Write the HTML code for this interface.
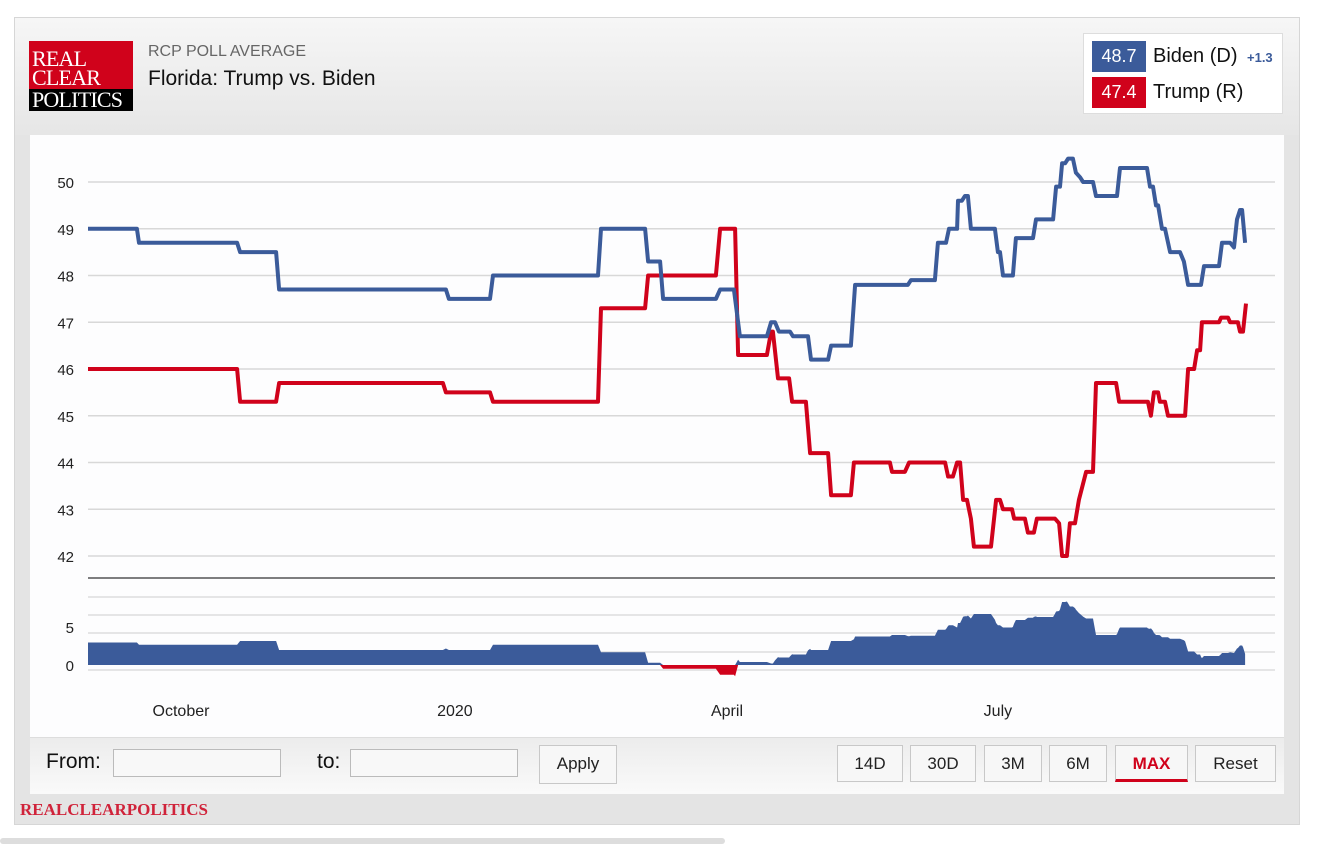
<!DOCTYPE html>
<html><head><meta charset="utf-8">
<style>
body{margin:0;width:1325px;height:844px;background:#fff;font-family:"Liberation Sans",sans-serif;overflow:hidden;position:relative}
.frame{position:absolute;left:14px;top:17px;width:1286px;height:808px;background:#e4e4e4;border:1px solid #d6d6d6;box-sizing:border-box}
.head{position:absolute;left:15px;top:18px;width:1284px;height:117px;background:linear-gradient(#f6f6f6,#e6e6e6)}
.logo{position:absolute;left:29px;top:41px;width:104px;height:70px;background:#000}
.logo .r{position:absolute;left:0;top:0;width:104px;height:48px;background:#d0021b}
.logo span{position:absolute;left:3px;color:#fff;font-family:"Liberation Serif",serif;font-size:22px;line-height:18px;letter-spacing:-0.8px}
.plot{position:absolute;left:30px;top:135px;width:1254px;height:602px;background:#fdfdfe}
.ctrl{position:absolute;left:30px;top:737px;width:1254px;height:56px;background:linear-gradient(#ececec,#fafafa);border-top:1px solid #ddd}
.btn{position:absolute;top:745px;height:37px;background:#f7f7f7;border:1px solid #c8c8c8;box-sizing:border-box;font-size:17px;color:#222;text-align:center;line-height:36px}
.inp{position:absolute;top:749px;height:28px;background:#f8f8f8;border:1px solid #bbb;box-sizing:border-box}
</style></head><body>
<div class="frame"></div>
<div class="head"></div>
<div class="logo"><div class="r"></div>
<span style="top:9px">REAL</span><span style="top:28px">CLEAR</span><span style="top:50px">POLITICS</span></div>
<div style="position:absolute;left:148px;top:43px;font-size:16px;color:#666">RCP POLL AVERAGE</div>
<div style="position:absolute;left:148px;top:67px;font-size:21px;color:#111">Florida: Trump vs. Biden</div>
<div style="position:absolute;left:1083px;top:33px;width:200px;height:81px;background:#fff;border:1px solid #ddd;box-sizing:border-box">
<div style="position:absolute;left:8px;top:7px;width:54px;height:31px;background:#3b5b9a;color:#fff;font-size:18px;text-align:center;line-height:31px">48.7</div>
<div style="position:absolute;left:69px;top:11px;font-size:20px;color:#111">Biden (D)</div>
<div style="position:absolute;left:163px;top:16px;font-size:13px;color:#3b5b9a;font-weight:bold">+1.3</div>
<div style="position:absolute;left:8px;top:43px;width:54px;height:31px;background:#d0021b;color:#fff;font-size:18px;text-align:center;line-height:31px">47.4</div>
<div style="position:absolute;left:69px;top:47px;font-size:20px;color:#111">Trump (R)</div>
</div>
<div class="plot"></div>
<svg id="chart" width="1325" height="844" style="position:absolute;left:0;top:0"></svg>
<div class="ctrl"></div>
<div style="position:absolute;left:46px;top:750px;font-size:21px;color:#111">From:</div>
<div class="inp" style="left:113px;width:168px"></div>
<div style="position:absolute;left:317px;top:750px;font-size:21px;color:#111">to:</div>
<div class="inp" style="left:350px;width:168px"></div>
<div class="btn" style="left:539px;width:78px;top:745px;height:39px">Apply</div>
<div class="btn" style="left:837px;width:66px">14D</div>
<div class="btn" style="left:910px;width:66px">30D</div>
<div class="btn" style="left:984px;width:58px">3M</div>
<div class="btn" style="left:1049px;width:58px">6M</div>
<div class="btn" style="left:1115px;width:73px;color:#d0021b;font-weight:bold;border-bottom:3px solid #d0021b">MAX</div>
<div class="btn" style="left:1195px;width:81px">Reset</div>
<div style="position:absolute;left:20px;top:800px;font-family:'Liberation Serif',serif;font-weight:bold;font-size:17px;color:#d0233a">REALCLEARPOLITICS</div>
<div style="position:absolute;left:0;top:838px;width:725px;height:6px;background:#ddd;border-radius:3px"></div>
<script>
const bidenDays=[0,16.3,17,49.7,50.7,62.7,63.7,119.3,120.3,134,135,170,171,185.7,186.7,190.7,191.7,209.3,210.7,215.3,217.3,226.3,227.7,229,230.3,234,235,240,241,246.7,247.7,254.3,255.7,273.3,274.3,282.3,283.3,286,287,289.7,290,291.3,292.3,293.3,294.3,302.3,303.3,304,305,308.3,309.3,315,316,321.7,322.7,324,324.7,325.7,326.7,328.3,329.3,330.7,331.7,335,336,343,344,353,354,355,356,356.7,358,359,360.7,364,365.3,366.7,371,372,377,378,380.7,382,383,384,384.7,385.7];
const bidenVals=[49,49,48.7,48.7,48.5,48.5,47.7,47.7,47.5,47.5,48,48,49,49,48.3,48.3,47.5,47.5,47.7,47.7,46.7,46.7,47,47,46.8,46.8,46.7,46.7,46.2,46.2,46.5,46.5,47.8,47.8,47.9,47.9,48.7,48.7,49,49,49.6,49.6,49.7,49.7,49,49,48.5,48.5,48,48,48.8,48.8,49.2,49.2,49.9,49.9,50.4,50.4,50.5,50.5,50.2,50.1,50,50,49.7,49.7,50.3,50.3,49.9,49.9,49.5,49.5,49,49,48.5,48.5,48.3,47.8,47.8,48.2,48.2,48.7,48.7,48.6,49.2,49.4,49.4,48.7];
const trumpDays=[0,49.7,50.7,62.7,63.7,118.3,119.3,134,135,170,171,185.7,186.7,209.3,210.7,215.7,216.7,226.3,227.7,228.3,230,233.7,234.7,239.3,240.7,246.7,247.7,254.3,255.3,267.3,268,272.3,273.7,285.7,286.7,288.3,289.7,290.7,291.7,293,294.3,295.3,301,302.7,304,305,308,308.7,312.3,313.3,315.3,316.3,322.3,323.7,324.7,326.3,327.3,329,330.3,332.7,335,336,342.7,343.7,353.3,354.3,355.3,356.7,357.3,359,360,365.7,366.7,368.7,369.7,370.7,371.3,377,377.7,380,380.7,383.3,384,385,386];
const trumpVals=[46,46,45.3,45.3,45.7,45.7,45.5,45.5,45.3,45.3,47.3,47.3,48,48,49,49,46.3,46.3,46.8,46.8,45.8,45.8,45.3,45.3,44.2,44.2,43.3,43.3,44,44,43.8,43.8,44,44,43.7,43.7,44,44,43.2,43.2,42.8,42.2,42.2,43.2,43.2,43,43,42.8,42.8,42.5,42.5,42.8,42.8,42.7,42,42,42.7,42.7,43.2,43.8,43.8,45.7,45.7,45.3,45.3,45,45.5,45.5,45.3,45.3,45,45,46,46,46.4,46.4,47,47,47.1,47.1,47,47,46.8,46.8,47.4];
const yTicks=[42,43,44,45,46,47,48,49,50];
const spreadTicks=[0,5];
const monthLabels=["October","2020","April","July"];
const monthDays=[31,122.3,213,303.3];

const NS="http://www.w3.org/2000/svg";
const svg=document.getElementById('chart');
const x=d=>88+d*3;
const y=v=>182+(50-v)*46.75;
const ys=v=>665-v*7.5;
function el(t,a,p){const e=document.createElementNS(NS,t);for(const k in a)e.setAttribute(k,a[k]);(p||svg).appendChild(e);return e;}
yTicks.forEach(v=>{
  const l=el('line',{x1:88,x2:1275,y1:y(v),y2:y(v),stroke:'#d8d8d8','stroke-width':1.5});
  
  
  const t=el('text',{x:74,y:y(v)+6,'text-anchor':'end','font-size':15,fill:'#222','font-family':'Liberation Sans, sans-serif'});
  t.textContent=v;
  
  
});
const sep=el('line',{x1:88,x2:1275,y1:578,y2:578,stroke:'#555','stroke-width':1.5});


[597,615,633,652,670].forEach(p=>{
  const l=el('line',{x1:88,x2:1275,y1:p,y2:p,stroke:'#ddd','stroke-width':1.5});
  
  
});
spreadTicks.forEach(v=>{
  const t=el('text',{x:74,y:(v===0?665:627)+6,'text-anchor':'end','font-size':15,fill:'#222','font-family':'Liberation Sans, sans-serif'});
  t.textContent=v;
  
  
});
monthLabels.forEach((m,i)=>{
  const t=el('text',{x:x(monthDays[i]),y:716,'text-anchor':'middle','font-size':16,fill:'#222','font-family':'Liberation Sans, sans-serif'});
  t.textContent=m;
  
  
});
function interp(ds,vs,d){if(d<=ds[0])return vs[0];for(let i=1;i<ds.length;i++){if(d<=ds[i]){const f=(d-ds[i-1])/(ds[i]-ds[i-1]||1);return vs[i-1]+f*(vs[i]-vs[i-1]);}}return vs[vs.length-1];}
const allD=[...new Set([...bidenDays,...trumpDays])].sort((a,b)=>a-b).filter(d=>d<=385.7);
const sp=allD.map(d=>interp(bidenDays,bidenVals,d)-interp(trumpDays,trumpVals,d));
let pos='M'+x(allD[0])+','+ys(0),neg='M'+x(allD[0])+','+ys(0);
allD.forEach((d,i)=>{pos+=' L'+x(d)+','+ys(Math.max(0,sp[i]));neg+=' L'+x(d)+','+ys(Math.min(0,sp[i]));});
pos+=' L'+x(allD[allD.length-1])+','+ys(0)+'Z';neg+=' L'+x(allD[allD.length-1])+','+ys(0)+'Z';
const pa=el('path',{d:pos,fill:'#3b5b9a'});


const na=el('path',{d:neg,fill:'#d0021b'});


function line(ds,vs,c,name){
  const p=el('polyline',{points:ds.map((d,i)=>x(d)+','+y(vs[i])).join(' '),fill:'none',stroke:c,'stroke-width':4,'stroke-linejoin':'round'});
  
  
}
line(trumpDays,trumpVals,'#d0021b','trump-line');
line(bidenDays,bidenVals,'#3b5b9a','biden-line');
</script>
</body></html>
